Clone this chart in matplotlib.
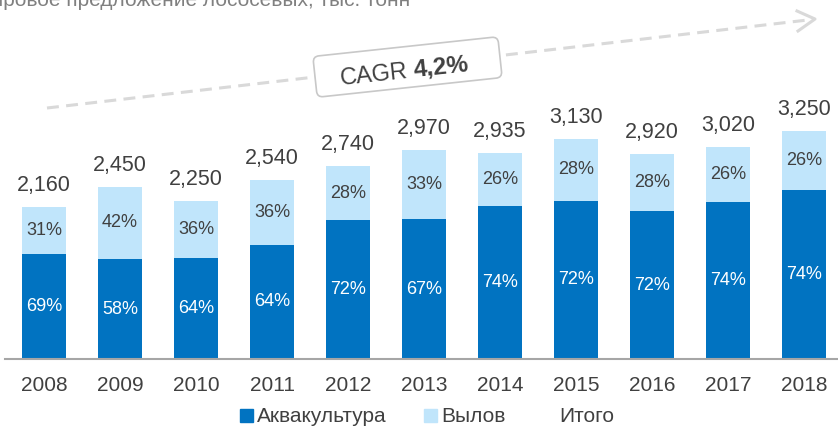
import numpy as np
import matplotlib
matplotlib.use("Agg")
from matplotlib import pyplot as plt
from matplotlib.patches import Patch, FancyBboxPatch
from matplotlib.lines import Line2D
from matplotlib.transforms import Affine2D

plt.rcParams['font.family'] = ['Liberation Sans', 'DejaVu Sans']

# data
years = ["2008", "2009", "2010", "2011", "2012", "2013", "2014", "2015", "2016", "2017", "2018"]
totals = [2160, 2450, 2250, 2540, 2740, 2970, 2935, 3130, 2920, 3020, 3250]
aqua_pct = [69, 58, 64, 64, 72, 67, 74, 72, 72, 74, 74]
catch_pct = [31, 42, 36, 36, 28, 33, 26, 28, 28, 26, 26]

dark = "#0173C1"
light = "#C0E5FB"
txt = "#404040"

W, H = 838, 426
fig = plt.figure(figsize=(W / 100, H / 100), dpi=100)

ax = fig.add_axes([5 / W, (H - 359) / H, (W - 5) / W, 359 / H])
x = np.arange(len(years))
tot = np.array(totals, dtype=float)
aqua = tot * np.array(aqua_pct) / 100.0
catch = tot - aqua

ax.bar(x, aqua, width=0.58, color=dark, zorder=2)
ax.bar(x, catch, width=0.58, bottom=aqua, color=light, zorder=2)

for i in range(len(x)):
    ax.text(x[i], aqua[i] / 2, f"{aqua_pct[i]}%", ha="center", va="center",
            color="white", fontsize=13)
    ax.text(x[i], aqua[i] + catch[i] / 2, f"{catch_pct[i]}%", ha="center",
            va="center", color=txt, fontsize=13)
    ax.annotate(f"{totals[i]:,}", (x[i], tot[i]), xytext=(0, 11.5),
                textcoords="offset points", ha="center", va="baseline",
                color=txt, fontsize=15.5)

ax.set_xlim(-0.513, 10.447)
ax.set_ylim(0, 359 / 0.0703)
ax.set_xticks(x)
ax.set_xticklabels(years, fontsize=15, color=txt)
ax.tick_params(axis="x", length=0, pad=12)
ax.set_yticks([])
for s in ["top", "left", "right"]:
    ax.spines[s].set_visible(False)
ax.spines["bottom"].set_color("#a6a6a6")
ax.spines["bottom"].set_linewidth(1.5)

# legend
handles = [Patch(color=dark), Patch(color=light), Patch(color="none")]
fig.legend(handles, ["Аквакультура", "Вылов", "Итого"], loc="center",
           bbox_to_anchor=(0.51, 1 - 417 / H), ncol=3, frameon=False,
           fontsize=15, labelcolor=txt, handlelength=0.6, handleheight=0.6,
           handletextpad=0.2, columnspacing=1.8, borderpad=0)

# overlay in pixel coordinates (y measured from top)
ov = fig.add_axes([0, 0, 1, 1], facecolor="none")
ov.set_xlim(0, W)
ov.set_ylim(H, 0)
ov.axis("off")

# title, cut off at the top edge
ov.text(410, 6, "Мировое предложение лососевых, тыс. тонн", ha="right",
        va="baseline", fontsize=15, color="#808080")

# CAGR dashed arrow
ov.plot([47, 812], [108, 19.5], color="#d9d9d9", lw=2.2, ls=(0, (3.9, 2.4)),
        solid_capstyle="butt", dash_capstyle="butt")
ov.plot([797, 815, 798], [11, 19, 31], color="#d9d9d9", lw=2.2)

cx, cy, bw, bh = 407.5, 67, 186, 41
box = FancyBboxPatch((cx - bw / 2, cy - bh / 2), bw, bh,
                     boxstyle="round,pad=0,rounding_size=6",
                     fc="white", ec="#c8c8c8", lw=1.2,
                     transform=Affine2D().rotate_deg_around(cx, cy, -6.1) + ov.transData,
                     zorder=3)
ov.add_patch(box)
ang = np.deg2rad(6.1)
px, py = 411, 77
ov.text(px - 3 * np.cos(ang), py + 3 * np.sin(ang), "CAGR", ha="right", va="baseline",
        rotation=6.1, rotation_mode="anchor", fontsize=17, color=txt, zorder=4)
ov.text(px + 3 * np.cos(ang), py - 3 * np.sin(ang), "4,2%", ha="left", va="baseline",
        rotation=6.1, rotation_mode="anchor", fontsize=17.5, fontweight="bold",
        color=txt, zorder=4)

fig.savefig("out.png", dpi=100)
